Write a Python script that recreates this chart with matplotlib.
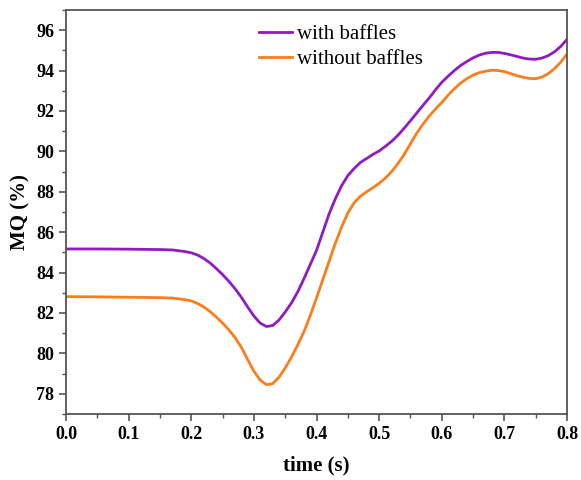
import numpy as np
from matplotlib import pyplot as plt
from matplotlib.ticker import MultipleLocator

# data
t = [0.0, 0.05, 0.1, 0.15, 0.16, 0.17, 0.18, 0.19, 0.20, 0.21, 0.22, 0.23, 0.24,
     0.25, 0.26, 0.27, 0.28, 0.29, 0.30, 0.31, 0.32, 0.33, 0.34, 0.35, 0.36,
     0.37, 0.38, 0.39, 0.40, 0.41, 0.42, 0.43, 0.44, 0.45, 0.46, 0.47, 0.48,
     0.49, 0.50, 0.51, 0.52, 0.53, 0.54, 0.55, 0.56, 0.57, 0.58, 0.59, 0.60,
     0.61, 0.62, 0.63, 0.64, 0.65, 0.66, 0.67, 0.68, 0.69, 0.70, 0.71, 0.72,
     0.73, 0.74, 0.75, 0.76, 0.77, 0.78, 0.79, 0.80]

mq_with = [85.17, 85.17, 85.16, 85.14, 85.13, 85.12, 85.08, 85.04, 84.98, 84.87,
           84.70, 84.48, 84.20, 83.90, 83.57, 83.20, 82.78, 82.30, 81.85, 81.50,
           81.33, 81.38, 81.65, 82.05, 82.50, 83.05, 83.70, 84.40, 85.10, 86.00,
           86.90, 87.65, 88.30, 88.80, 89.15, 89.45, 89.65, 89.85, 90.02, 90.25,
           90.50, 90.80, 91.15, 91.52, 91.90, 92.28, 92.65, 93.05, 93.42, 93.72,
           94.00, 94.25, 94.45, 94.63, 94.77, 94.86, 94.90, 94.90, 94.85, 94.78,
           94.70, 94.62, 94.57, 94.56, 94.62, 94.74, 94.93, 95.20, 95.55]

mq_without = [82.81, 82.80, 82.78, 82.76, 82.75, 82.74, 82.70, 82.66, 82.60, 82.47,
              82.30, 82.07, 81.80, 81.50, 81.17, 80.78, 80.30, 79.70, 79.12, 78.68,
              78.45, 78.50, 78.82, 79.28, 79.82, 80.42, 81.08, 81.88, 82.75, 83.65,
              84.55, 85.45, 86.25, 86.95, 87.45, 87.78, 88.00, 88.20, 88.42, 88.68,
              89.00, 89.40, 89.85, 90.38, 90.90, 91.35, 91.75, 92.10, 92.42, 92.78,
              93.10, 93.38, 93.60, 93.78, 93.90, 93.97, 94.02, 94.00, 93.95, 93.85,
              93.75, 93.67, 93.61, 93.60, 93.68, 93.85, 94.10, 94.42, 94.82]

plt.rcParams['font.family'] = ['Liberation Serif', 'DejaVu Serif']

fig = plt.figure(figsize=(5.81, 4.8), dpi=100)
ax = fig.add_axes([0.1136, 0.1375, 0.8624, 0.8417])

ax.plot(t, mq_with, color="#8e1cc2", lw=2, label="with baffles")
ax.plot(t, mq_without, color="#fb7d1c", lw=2, label="without baffles")

ax.set_xlim(0, 0.8)
ax.set_ylim(77, 97)
ax.xaxis.set_major_locator(MultipleLocator(0.1))
ax.xaxis.set_minor_locator(MultipleLocator(0.05))
ax.yaxis.set_major_locator(MultipleLocator(2))
ax.yaxis.set_minor_locator(MultipleLocator(1))
ax.xaxis.set_major_formatter(plt.FuncFormatter(lambda v, p: "%.1f" % v))

for s in ax.spines.values():
    s.set_color("#555555")
    s.set_linewidth(1.3)
ax.tick_params(which="major", direction="out", length=5, width=1.2, color="#555555",
               labelsize=13)
ax.tick_params(which="minor", direction="out", length=3, width=1.0, color="#555555")
for lab in ax.get_xticklabels() + ax.get_yticklabels():
    lab.set_fontweight("bold")

ax.set_xlabel("time (s)", fontsize=15, fontweight="bold", labelpad=9)
ax.set_ylabel("MQ (%)", fontsize=15, fontweight="bold", labelpad=4)

ax.legend(loc="upper left", bbox_to_anchor=(0.348, 1.01), frameon=False, fontsize=15,
          handlelength=1.6, handletextpad=0.2, labelspacing=0.25)

fig.savefig("out.png", dpi=100)
